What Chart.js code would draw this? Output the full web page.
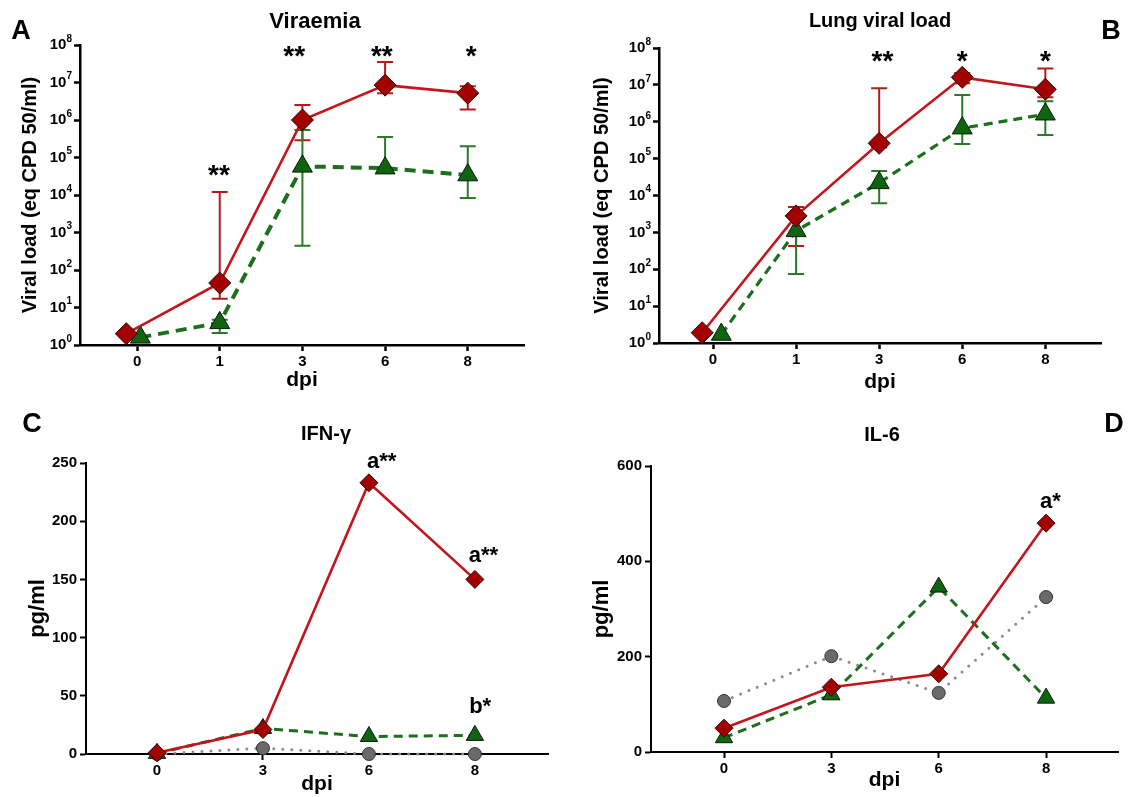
<!DOCTYPE html>
<html>
<head>
<meta charset="utf-8">
<script src="https://cdn.jsdelivr.net/npm/chart.js@4.4.1/dist/chart.umd.min.js"></script>
<style>
  body { margin: 0; background: #fff; width: 1129px; height: 797px; position: relative; overflow: hidden; }
  .panel { position: absolute; }
  .lbl { position: absolute; font-family: "Liberation Sans", Arial, sans-serif; font-weight: bold; color: #000;
         transform: translate(-50%, -50%); white-space: nowrap; line-height: 1; }
</style>
</head>
<body>
<div class="panel" style="left:0;top:0;width:560px;height:400px"><canvas id="chartA"></canvas></div>
<div class="panel" style="left:560px;top:0;width:569px;height:400px"><canvas id="chartB"></canvas></div>
<div class="panel" style="left:0;top:400px;width:560px;height:397px"><canvas id="chartC"></canvas></div>
<div class="panel" style="left:560px;top:400px;width:569px;height:397px"><canvas id="chartD"></canvas></div>

<div class="lbl" style="left:21px;top:30px;font-size:27px">A</div>
<div class="lbl" style="left:1111px;top:30px;font-size:27px">B</div>
<div class="lbl" style="left:32px;top:423px;font-size:27px">C</div>
<div class="lbl" style="left:1114px;top:423px;font-size:27px">D</div>
<div class="lbl" style="left:315px;top:21px;font-size:22px">Viraemia</div>
<div class="lbl" style="left:880px;top:20px;font-size:20px">Lung viral load</div>
<div class="lbl" style="left:326px;top:433px;font-size:20px">IFN-γ</div>
<div class="lbl" style="left:882px;top:434px;font-size:20px">IL-6</div>

<script>
const FONT = '"Liberation Sans", Arial, Helvetica, sans-serif';

// tick labels
const dpiLabelsAB = ['0', '1', '3', '6', '8'];
const dpiLabelsCD = ['0', '3', '6', '8'];
const logTicks = [1, 1e1, 1e2, 1e3, 1e4, 1e5, 1e6, 1e7, 1e8];

// x = category index (day 0 points are slightly nudged in the figure)
const viraemiaRedX = [-0.13, 1, 2, 3, 4];
const viraemiaGreenX = [0.04, 1, 2, 3, 4];
const lungRedX = [-0.13, 1, 2, 3, 4];
const lungGreenX = [0.1, 1, 2, 3, 4];
const cytoX = [0, 1, 2, 3];

// A - Viraemia
const viraemiaRed = [2, 45, 1.0e6, 8.5e6, 5.2e6];
const viraemiaRedHi = [null, 1.2e4, 2.5e6, 3.5e7, 8.0e6];
const viraemiaRedLo = [null, 17, 2.9e5, 5.2e6, 1.9e6];
const viraemiaGreen = [1.6, 3.9, 5.8e4, 5.2e4, 3.4e4];
const viraemiaGreenHi = [null, 4.7, 5.4e5, 3.5e5, 2.0e5];
const viraemiaGreenLo = [null, 2.1, 440, null, 8.3e3];

// B - Lung viral load
const lungRed = [1.9, 2.8e3, 2.6e5, 1.6e7, 7.6e6];
const lungRedHi = [null, 4.9e3, 8.1e6, 2.1e7, 2.8e7];
const lungRedLo = [null, 430, 2.0e5, 1.1e7, 4.6e6];
const lungGreen = [1.7, 1.1e3, 2.2e4, 6.7e5, 1.6e6];
const lungGreenHi = [null, 2.4e3, 4.6e4, 5.3e6, 3.6e6];
const lungGreenLo = [null, 74, 6.2e3, 2.5e5, 4.4e5];

// C - IFN-gamma (pg/ml)
const ifnRed = [1, 21, 233, 150];
const ifnGreen = [0.5, 22, 15, 16];
const ifnGrey = [0, 5, 0, 0];

// D - IL-6 (pg/ml)
const il6Red = [50, 136, 164, 480];
const il6Green = [30, 120, 346, 113];
const il6Grey = [107, 201, 124, 325];

// significance marks: x index, y value (text baseline), text
const viraemiaMarks = [
  { x: 0.99, y: 2e4, text: '**' }, { x: 1.9, y: 2.9e7, text: '**' },
  { x: 2.96, y: 2.9e7, text: '**' }, { x: 4.04, y: 2.9e7, text: '*' }
];
const lungMarks = [
  { x: 2.04, y: 2.5e7, text: '**' }, { x: 3.0, y: 2.5e7, text: '*' }, { x: 4.0, y: 2.5e7, text: '*' }
];
const ifnMarks = [
  { x: 2.12, y: 246, text: 'a**' }, { x: 3.08, y: 165, text: 'a**' }, { x: 3.05, y: 35, text: 'b*' }
];
const il6Marks = [{ x: 3.04, y: 512, text: 'a*' }];

const RED = { line: '#c3161c', fill: '#a30000', err: '#b31b1b' };
const GREEN = { line: '#1d6e1d', fill: '#0f6410', err: '#2a7a2a' };
const GREY = { line: '#8a8a8a', fill: '#6a6a6a' };

function points(xs, ys) {
  return ys.map((y, i) => ({ x: xs[i], y: y }));
}

const errorBars = {
  id: 'errorBars',
  beforeDatasetsDraw(chart) {
    const ctx = chart.ctx, xs = chart.scales.x, ys = chart.scales.y;
    chart.data.datasets.forEach(ds => {
      if (!ds.errHi) return;
      ctx.save();
      ctx.strokeStyle = ds.errColor;
      ctx.lineWidth = 2;
      ds.data.forEach((p, i) => {
        const px = xs.getPixelForValue(p.x), py = ys.getPixelForValue(p.y);
        [ds.errHi[i], ds.errLo[i]].forEach(v => {
          if (v == null) return;
          const ey = ys.getPixelForValue(v);
          ctx.beginPath();
          ctx.moveTo(px, py); ctx.lineTo(px, ey);
          ctx.moveTo(px - 8, ey); ctx.lineTo(px + 8, ey);
          ctx.stroke();
        });
      });
      ctx.restore();
    });
  }
};

const sigMarks = {
  id: 'sigMarks',
  afterDatasetsDraw(chart, args, opts) {
    if (!opts.items) return;
    const ctx = chart.ctx;
    ctx.save();
    ctx.fillStyle = '#000';
    ctx.font = 'bold ' + opts.size + 'px ' + FONT;
    ctx.textAlign = 'center';
    ctx.textBaseline = 'alphabetic';
    opts.items.forEach(m => {
      ctx.fillText(m.text, chart.scales.x.getPixelForValue(m.x), chart.scales.y.getPixelForValue(m.y));
    });
    ctx.restore();
  }
};

// power-of-ten labels with a superscript exponent
const logLabels = {
  id: 'logLabels',
  afterDraw(chart) {
    const ys = chart.scales.y;
    if (ys.type !== 'logarithmic') return;
    const ctx = chart.ctx;
    const right = ys.right - 8;
    ctx.save();
    ctx.fillStyle = '#000';
    ctx.textBaseline = 'middle';
    ctx.textAlign = 'right';
    logTicks.forEach(v => {
      const py = ys.getPixelForValue(v);
      const exp = String(Math.round(Math.log10(v)));
      ctx.font = 'bold 10px ' + FONT;
      const w = ctx.measureText(exp).width;
      ctx.fillText(exp, right, py - 6);
      ctx.font = 'bold 15px ' + FONT;
      ctx.fillText('10', right - w, py);
    });
    ctx.restore();
  }
};

function xAxis(labels, min, max, height, titlePad, lw) {
  return {
    type: 'linear', min: min, max: max,
    afterBuildTicks: s => { s.ticks = labels.map((l, i) => ({ value: i })); },
    afterFit: s => { s.height = height; },
    ticks: { callback: v => labels[v], color: '#000', autoSkip: false, maxRotation: 0, padding: 2,
             font: { family: FONT, size: 15, weight: 'bold' } },
    grid: { display: true, drawOnChartArea: false, drawTicks: true, tickLength: 6, tickWidth: lw, tickColor: '#000' },
    border: { display: true, color: '#000', width: lw },
    title: { display: true, text: 'dpi', color: '#000', padding: { top: 0, bottom: titlePad },
             font: { family: FONT, size: 21, weight: 'bold', lineHeight: 1.2 } }
  };
}

function logAxis(width, titlePad) {
  return {
    type: 'logarithmic', min: 1, max: 1e8,
    afterBuildTicks: s => { s.ticks = logTicks.map(v => ({ value: v, major: true })); },
    afterFit: s => { s.width = width; },
    ticks: { color: 'rgba(0,0,0,0)', callback: () => '10', autoSkip: false },
    grid: { display: true, drawOnChartArea: false, drawTicks: true, tickLength: 6, tickWidth: 2.5, tickColor: '#000' },
    border: { display: true, color: '#000', width: 2.5 },
    title: { display: true, text: 'Viral load (eq CPD 50/ml)', color: '#000', padding: { top: titlePad, bottom: 0 },
             font: { family: FONT, size: 20, weight: 'bold', lineHeight: 1.2 } }
  };
}

function linAxis(max, step, width, titlePad) {
  return {
    type: 'linear', min: 0, max: max,
    afterFit: s => { s.width = width; },
    ticks: { stepSize: step, color: '#000', padding: 3, font: { family: FONT, size: 15, weight: 'bold' } },
    grid: { display: true, drawOnChartArea: false, drawTicks: true, tickLength: 6, tickWidth: 2, tickColor: '#000' },
    border: { display: true, color: '#000', width: 2 },
    title: { display: true, text: 'pg/ml', color: '#000', padding: { top: titlePad, bottom: 0 },
             font: { family: FONT, size: 22, weight: 'bold', lineHeight: 1.2 } }
  };
}

function redSet(xs, ys, r, hi, lo) {
  return { data: points(xs, ys), borderColor: RED.line, borderWidth: 2.6, pointStyle: 'rectRot', pointRadius: r,
           pointBackgroundColor: RED.fill, pointBorderColor: '#2a0a0a', pointBorderWidth: 1, clip: false,
           errHi: hi, errLo: lo, errColor: RED.err };
}
function greenSet(xs, ys, r, width, dash, hi, lo) {
  return { data: points(xs, ys), borderColor: GREEN.line, borderWidth: width, borderDash: dash, pointStyle: 'triangle',
           pointRadius: r, pointBackgroundColor: GREEN.fill, pointBorderColor: '#0a1a0a', pointBorderWidth: 1, clip: false,
           errHi: hi, errLo: lo, errColor: GREEN.err };
}
function greySet(xs, ys, r) {
  return { data: points(xs, ys), borderColor: GREY.line, borderWidth: 3, borderDash: [0, 9], borderCapStyle: 'round',
           pointStyle: 'circle', pointRadius: r, pointBackgroundColor: GREY.fill, pointBorderColor: '#333',
           pointBorderWidth: 1, clip: false };
}

function makeChart(id, datasets, x, y, padding, marks, markSize) {
  return new Chart(document.getElementById(id), {
    type: 'line',
    data: { datasets: datasets },
    options: {
      responsive: true, maintainAspectRatio: false, animation: false,
      layout: { padding: padding },
      plugins: { legend: { display: false }, tooltip: { enabled: false },
                 sigMarks: { items: marks, size: markSize } },
      scales: { x: x, y: y }
    },
    plugins: [errorBars, sigMarks, logLabels]
  });
}

makeChart('chartA',
  [redSet(viraemiaRedX, viraemiaRed, 11, viraemiaRedHi, viraemiaRedLo),
   greenSet(viraemiaGreenX, viraemiaGreen, 11.5, 4, [11, 7], viraemiaGreenHi, viraemiaGreenLo)],
  xAxis(dpiLabelsAB, -0.69, 4.68, 55, 7, 2.5), logAxis(80, 18),
  { left: 0, top: 45, right: 36, bottom: 0 }, viraemiaMarks, 28);

makeChart('chartB',
  [redSet(lungRedX, lungRed, 11, lungRedHi, lungRedLo),
   greenSet(lungGreenX, lungGreen, 11.5, 3.2, [9, 6], lungGreenHi, lungGreenLo)],
  xAxis(dpiLabelsAB, -0.65, 4.67, 57, 5, 2.5), logAxis(99, 30),
  { left: 0, top: 48, right: 28, bottom: 0 }, lungMarks, 28);

makeChart('chartC',
  [redSet(cytoX, ifnRed, 9, null, null),
   greenSet(cytoX, ifnGreen, 10, 3, [9, 6], null, null),
   greySet(cytoX, ifnGrey, 6.5)],
  xAxis(dpiLabelsCD, -0.67, 3.69, 43, 0, 2), linAxis(250, 50, 86, 25),
  { left: 0, top: 63, right: 12, bottom: 0 }, ifnMarks, 22);

makeChart('chartD',
  [redSet(cytoX, il6Red, 9, null, null),
   greenSet(cytoX, il6Green, 10, 3, [9, 6], null, null),
   greySet(cytoX, il6Grey, 6.5)],
  xAxis(dpiLabelsCD, -0.68, 3.67, 45, 4, 2), linAxis(600, 200, 91, 29),
  { left: 0, top: 66, right: 9, bottom: 0 }, il6Marks, 22);
</script>
</body>
</html>
